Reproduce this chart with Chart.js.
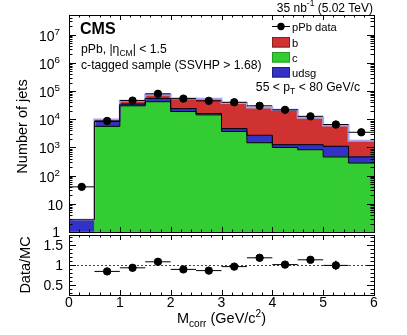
<!DOCTYPE html>
<html>
<head>
<meta charset="utf-8">
<script src="https://cdn.jsdelivr.net/npm/chart.js@4.4.0/dist/chart.umd.min.js"></script>
<style>
  html, body { margin: 0; padding: 0; background: #fff; }
  #wrap { position: relative; width: 407px; height: 335px; }
  canvas { position: absolute; left: 0; top: 0; }
</style>
</head>
<body>
<div id="wrap">
  <canvas id="main" width="407" height="335"></canvas>
  <canvas id="ratio" width="407" height="335"></canvas>
</div>
<script>
// histogram bins (M_corr, GeV/c^2)
const binEdges = [0, 0.5, 1, 1.5, 2, 2.5, 3, 3.5, 4, 4.5, 5, 5.5, 6];
const binCenters = [0.25, 0.75, 1.25, 1.75, 2.25, 2.75, 3.25, 3.75, 4.25, 4.75, 5.25, 5.75];

// MC templates (stacked: c, udsg, b)
const cJets    = [0, 5600, 30000, 42000, 18800, 14300, 3700, 1470, 1000, 830, 460, 280];
const udsgJets = [2.7, 2700, 4600, 13000, 5000, 1700, 950, 1230, 250, 420, 640, 180];
const bJets    = [0, 1500, 10800, 18400, 31200, 37000, 33200, 23300, 20400, 10000, 4950, 1270];

// pPb data
const dataJets = [40, 8700, 46000, 80000, 54000, 45000, 40000, 30000, 21600, 12700, 6500, 3450];
const dataErr  = [8, 300, 900, 1200, 1000, 1500, 1200, 1000, 900, 800, 600, 500];

// Data/MC ratio
const ratioX    = [0.75, 1.25, 1.75, 2.25, 2.75, 3.25, 3.75, 4.25, 4.75, 5.25];
const ratioVals = [0.84, 0.93, 1.08, 0.89, 0.86, 0.96, 1.18, 1.01, 1.13, 0.99];
const ratioErr  = [0.05, 0.03, 0.03, 0.03, 0.08, 0.03, 0.03, 0.04, 0.08, 0.12];

// axis ticks
const xTickVals = [0, 1, 2, 3, 4, 5, 6];
const logExponents = [0, 1, 2, 3, 4, 5, 6, 7];
const ratioTickVals = [0.5, 1, 1.5];
const ratioTickLabels = ['0.5', '1', '1.5'];

const FONT = "'Liberation Sans', Arial, Helvetica, sans-serif";
const RED = '#d03232';
const GREEN = '#33cc33';
const BLUE = '#3232c8';
const LAVENDER = '#a4a4f2';

const cuBlue = cJets.map((v, i) => v + udsgJets[i]);
const cuTotal = cuBlue.map((v, i) => v + bJets[i]);

function stepPoints(arr) {
  return binEdges.map((x, i) => ({ x: x, y: arr[Math.min(i, arr.length - 1)] }));
}

function richText(ctx, parts, x, y, align, size, bold) {
  let w = 0;
  const items = parts.map(p => {
    const s = p[1] ? size * 0.7 : size;
    ctx.font = (bold ? 'bold ' : '') + s + 'px ' + FONT;
    const tw = ctx.measureText(p[0]).width;
    w += tw;
    return { t: p[0], m: p[1], s: s, tw: tw };
  });
  let cx = align === 'right' ? x - w : align === 'center' ? x - w / 2 : x;
  ctx.textAlign = 'left';
  ctx.textBaseline = 'alphabetic';
  items.forEach(it => {
    ctx.font = (bold ? 'bold ' : '') + it.s + 'px ' + FONT;
    const dy = it.m === 'sub' ? size * 0.28 : it.m === 'sup' ? -size * 0.42 : 0;
    ctx.fillText(it.t, cx, y + dy);
    cx += it.tw;
  });
  return w;
}

function vLine(ctx, x, y1, y2) {
  ctx.beginPath(); ctx.moveTo(x, y1); ctx.lineTo(x, y2); ctx.stroke();
}
function hLine(ctx, x1, x2, y) {
  ctx.beginPath(); ctx.moveTo(x1, y); ctx.lineTo(x2, y); ctx.stroke();
}

function drawXTicks(ctx, xs, a, majorLen, minorLen) {
  for (let k = 0; k <= 30; k++) {
    const v = k * 0.2;
    const px = Math.round(xs.getPixelForValue(v)) + 0.5;
    const len = k % 5 === 0 ? majorLen : minorLen;
    vLine(ctx, px, a.bottom, a.bottom - len);
    vLine(ctx, px, a.top, a.top + len);
  }
}

const mainPlugin = {
  id: 'mainDecor',
  afterDatasetsDraw(chart) {
    const ctx = chart.ctx;
    const xs = chart.scales.x, ys = chart.scales.y;
    ctx.save();
    ctx.strokeStyle = '#000';
    ctx.lineWidth = 1;
    // data error bars
    binCenters.forEach((c, i) => {
      const px = xs.getPixelForValue(c);
      const py = ys.getPixelForValue(dataJets[i]);
      hLine(ctx, xs.getPixelForValue(c - 0.25), xs.getPixelForValue(c + 0.25), py);
      vLine(ctx, px, ys.getPixelForValue(dataJets[i] - dataErr[i]), ys.getPixelForValue(dataJets[i] + dataErr[i]));
    });
    ctx.restore();
  },
  afterDraw(chart) {
    const ctx = chart.ctx;
    const a = chart.chartArea;
    const xs = chart.scales.x, ys = chart.scales.y;
    ctx.save();
    ctx.strokeStyle = '#000';
    ctx.fillStyle = '#000';
    ctx.lineWidth = 1;
    // frame
    ctx.strokeRect(a.left + 0.5, a.top + 0.5, a.right - a.left, a.bottom - a.top);
    // x ticks
    drawXTicks(ctx, xs, a, 5, 2.5);
    // log y ticks
    logExponents.forEach(e => {
      for (let m = 1; m <= 9; m++) {
        const v = m * Math.pow(10, e);
        if (v > ys.max) break;
        const py = Math.round(ys.getPixelForValue(v)) + 0.5;
        const len = m === 1 ? 7 : 3.5;
        hLine(ctx, a.left, a.left + len, py);
        hLine(ctx, a.right, a.right - len, py);
      }
    });
    // y labels
    logExponents.forEach(e => {
      const py = ys.getPixelForValue(Math.pow(10, e));
      if (e === 0) richText(ctx, [['1']], 60, py + 5, 'right', 14);
      else if (e === 1) richText(ctx, [['10']], 63, py + 6, 'right', 14);
      else richText(ctx, [['10'], [String(e), 'sup']], 60, py + 6, 'right', 14);
    });
    // y title
    ctx.save();
    ctx.translate(27, (a.top + a.bottom) / 2 + 3);
    ctx.rotate(-Math.PI / 2);
    richText(ctx, [['Number of jets']], 0, 0, 'center', 14.5);
    ctx.restore();

    // labels
    richText(ctx, [['CMS']], 80, 33.5, 'left', 16, true);
    richText(ctx, [['pPb, |\u03b7'], ['CM', 'sub'], ['| < 1.5']], 81, 52.5, 'left', 12.2);
    richText(ctx, [['c-tagged sample (SSVHP > 1.68)']], 81, 69, 'left', 12.2);
    richText(ctx, [['35 nb'], ['-1', 'sup'], [' (5.02 TeV)']], 373, 11.5, 'right', 12);
    richText(ctx, [['55 < p'], ['T', 'sub'], [' < 80 GeV/c']], 360, 91, 'right', 12.2);

    // legend
    const lx = 272, lw = 18;
    hLine(ctx, lx, lx + lw, 26.5);
    ctx.beginPath(); ctx.arc(lx + lw / 2, 26.5, 3.7, 0, Math.PI * 2); ctx.fill();
    richText(ctx, [['pPb data']], 292, 30.5, 'left', 11.2);
    const entries = [['b', RED, '#8a2020', 37], ['c', GREEN, '#229922', 52], ['udsg', BLUE, '#20207a', 67]];
    entries.forEach(en => {
      ctx.fillStyle = en[1];
      ctx.fillRect(lx, en[3], lw, 10.5);
      ctx.strokeStyle = en[2];
      ctx.strokeRect(lx + 0.5, en[3] + 0.5, lw - 1, 9.5);
      ctx.fillStyle = '#000';
      richText(ctx, [[en[0]]], 292, en[3] + 9.5, 'left', 11.2);
    });
    ctx.restore();
  }
};

const ratioPlugin = {
  id: 'ratioDecor',
  beforeDatasetsDraw(chart) {
    const ctx = chart.ctx;
    const a = chart.chartArea;
    const ys = chart.scales.y, xs = chart.scales.x;
    ctx.save();
    ctx.strokeStyle = '#444';
    ctx.lineWidth = 1;
    ctx.setLineDash([2, 2]);
    hLine(ctx, a.left, a.right, Math.round(ys.getPixelForValue(1)) + 0.5);
    ctx.setLineDash([]);
    ctx.strokeStyle = '#000';
    ratioX.forEach((c, i) => {
      const py = ys.getPixelForValue(ratioVals[i]);
      hLine(ctx, xs.getPixelForValue(c - 0.25), xs.getPixelForValue(c + 0.25), py);
      const px = xs.getPixelForValue(c);
      vLine(ctx, px, ys.getPixelForValue(ratioVals[i] - ratioErr[i]), ys.getPixelForValue(ratioVals[i] + ratioErr[i]));
    });
    ctx.restore();
  },
  afterDraw(chart) {
    const ctx = chart.ctx;
    const a = chart.chartArea;
    const xs = chart.scales.x, ys = chart.scales.y;
    ctx.save();
    ctx.strokeStyle = '#000';
    ctx.fillStyle = '#000';
    ctx.lineWidth = 1;
    ctx.strokeRect(a.left + 0.5, a.top + 0.5, a.right - a.left, a.bottom - a.top);
    drawXTicks(ctx, xs, a, 5, 2.5);
    for (let k = 3; k <= 17; k++) {
      const v = k / 10;
      const py = Math.round(ys.getPixelForValue(v)) + 0.5;
      const len = k % 5 === 0 ? 7 : 3.5;
      hLine(ctx, a.left, a.left + len, py);
      hLine(ctx, a.right, a.right - len, py);
    }
    ratioTickVals.forEach((v, i) => {
      richText(ctx, [[ratioTickLabels[i]]], 63, ys.getPixelForValue(v) + 5, 'right', 14);
    });
    xTickVals.forEach(v => {
      richText(ctx, [[String(v)]], xs.getPixelForValue(v), 307, 'center', 14);
    });
    richText(ctx, [['M'], ['corr', 'sub'], [' (GeV/c'], ['2', 'sup'], [')']], (a.left + a.right) / 2, 323, 'center', 14.5);
    ctx.save();
    ctx.translate(30, (a.top + a.bottom) / 2);
    ctx.rotate(-Math.PI / 2);
    richText(ctx, [['Data/MC']], 0, 0, 'center', 14.5);
    ctx.restore();
    ctx.restore();
  }
};

const baseOptions = {
  responsive: false,
  animation: false,
  devicePixelRatio: 1,
  events: [],
  plugins: { legend: { display: false }, tooltip: { enabled: false } }
};

new Chart(document.getElementById('main'), {
  data: {
    datasets: [
      { type: 'scatter', data: binCenters.map((x, i) => ({ x: x, y: dataJets[i] })),
        backgroundColor: '#000', borderColor: '#000', pointRadius: 3.7, order: 0 },
      { type: 'line', data: stepPoints(cJets), stepped: 'before', borderColor: '#000',
        borderWidth: 1, pointRadius: 0, fill: false, order: 2 },
      { type: 'line', data: stepPoints(cuBlue), stepped: 'before', borderColor: '#000',
        borderWidth: 1, pointRadius: 0, fill: false, order: 3 },
      { type: 'line', data: stepPoints(cuTotal), stepped: 'before', borderColor: LAVENDER,
        borderWidth: 2, pointRadius: 0, fill: false, order: 4 },
      { type: 'bar', data: binCenters.map((x, i) => ({ x: x, y: cJets[i] })),
        backgroundColor: GREEN, grouped: false, barPercentage: 1, categoryPercentage: 1, order: 5 },
      { type: 'bar', data: binCenters.map((x, i) => ({ x: x, y: cuBlue[i] })),
        backgroundColor: BLUE, grouped: false, barPercentage: 1, categoryPercentage: 1, order: 6 },
      { type: 'bar', data: binCenters.map((x, i) => ({ x: x, y: cuTotal[i] })),
        backgroundColor: RED, grouped: false, barPercentage: 1, categoryPercentage: 1, order: 7 }
    ]
  },
  options: Object.assign({}, baseOptions, {
    layout: { padding: { left: 69, right: 33, top: 15, bottom: 103 } },
    scales: {
      x: { type: 'linear', min: 0, max: 6, offset: false, display: false },
      y: { type: 'logarithmic', min: 1, max: 5e7, display: false }
    }
  }),
  plugins: [mainPlugin]
});

new Chart(document.getElementById('ratio'), {
  data: {
    datasets: [
      { type: 'scatter', data: ratioX.map((x, i) => ({ x: x, y: ratioVals[i] })),
        backgroundColor: '#000', borderColor: '#000', pointRadius: 3.7 }
    ]
  },
  options: Object.assign({}, baseOptions, {
    layout: { padding: { left: 69, right: 33, top: 235, bottom: 40 } },
    scales: {
      x: { type: 'linear', min: 0, max: 6, display: false },
      y: { type: 'linear', min: 0.25, max: 1.75, display: false }
    }
  }),
  plugins: [ratioPlugin]
});
</script>
</body>
</html>
